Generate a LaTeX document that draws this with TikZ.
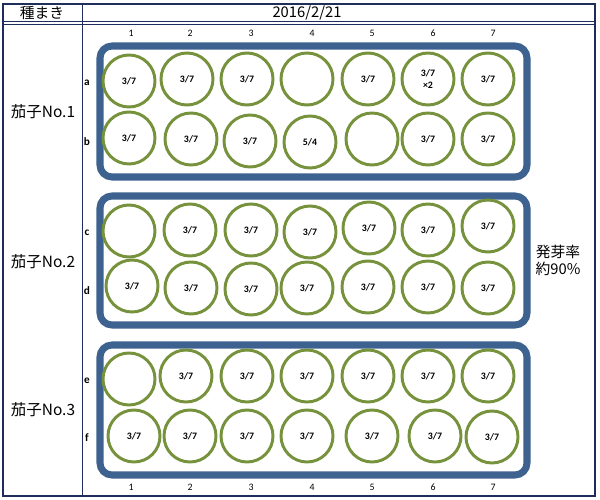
\documentclass[tikz,border=0pt]{standalone}
\usepackage{fontspec}
\setmainfont{Carlito}
\newfontfamily\jpfont{Noto Sans CJK JP}
\definecolor{framenavy}{RGB}{31,45,90}
\definecolor{traynavy}{RGB}{62,98,143}
\definecolor{cupgreen}{RGB}{119,146,60}

\begin{document}
\begin{tikzpicture}[
  x=0.025cm, y=-0.025cm,
  frame/.style={draw=framenavy, line width=1pt},
  rule/.style={draw=framenavy, line width=0.7pt},
  tray/.style={draw=traynavy, line width=5pt, rounded corners=3mm},
  cup/.style={circle, draw=cupgreen, line width=2.1pt, minimum size=1.3cm, inner sep=0pt, align=center, font=\bfseries\fontsize{7}{8}\selectfont},
  colnum/.style={font=\fontsize{7}{8}\selectfont},
  rowlabel/.style={font=\bfseries\fontsize{8}{9}\selectfont},
  variety/.style={font=\jpfont\fontsize{11}{13}\selectfont},
  header/.style={font=\jpfont\fontsize{10.5}{12}\selectfont, align=center}
]
\useasboundingbox (0,0) rectangle (600,500);

% Table frame
\draw[frame] (3,4) rectangle (595,496);
\draw[rule] (3,21) -- (595,21);
\draw[rule] (3,24) -- (595,24);
\draw[rule] (82,4) -- (82,496);

% Header
\node[header] (sowing) at (42,13) {種まき};
\node[header] (date) at (307,13) {2016/2/21};

% Column numbers
\foreach \c/\x in {1/131,2/190,3/251,4/312,5/372,6/433,7/493} {
  \node[colnum] (top\c) at (\x,33) {\c};
  \node[colnum] (bot\c) at (\x,487) {\c};
}

% Trays
\draw[tray] (100,46) rectangle (527,177);
\draw[tray] (100,196) rectangle (527,325);
\draw[tray] (100,345) rectangle (527,475);

% Varieties
\node[variety] (eggplant1) at (43,112) {茄子No.1};
\node[variety] (eggplant2) at (43,262) {茄子No.2};
\node[variety] (eggplant3) at (43,410) {茄子No.3};

% Row letters
\foreach \r/\y in {a/83,b/142,c/233,d/291,e/381,f/438}
  \node[rowlabel] (row\r) at (87,\y) {\r};

% Pots
\foreach \n/\x/\y/\t in {1/129/81/{3/7},2/187/79/{3/7},3/247/79/{3/7},4/307/79/{},5/368/79/{3/7},6/428/79/{3/7\\×2},7/488/79/{3/7}}
  \node[cup] (a\n) at (\x,\y) {\t};
\foreach \n/\x/\y/\t in {1/129/138/{3/7},2/191/139/{3/7},3/250/141/{3/7},4/310/142/{5/4},5/372/139/{},6/428/139/{3/7},7/488/139/{3/7}}
  \node[cup] (b\n) at (\x,\y) {\t};
\foreach \n/\x/\y/\t in {1/129/231/{},2/190/230/{3/7},3/251/230/{3/7},4/310/232/{3/7},5/369/228/{3/7},6/428/230/{3/7},7/488/226/{3/7}}
  \node[cup] (c\n) at (\x,\y) {\t};
\foreach \n/\x/\y/\t in {1/132/286/{3/7},2/191/288/{3/7},3/251/289/{3/7},4/307/288/{3/7},5/368/287/{3/7},6/428/287/{3/7},7/488/288/{3/7}}
  \node[cup] (d\n) at (\x,\y) {\t};
\foreach \n/\x/\y/\t in {1/129/379/{},2/186/376/{3/7},3/247/376/{3/7},4/307/376/{3/7},5/368/376/{3/7},6/428/376/{3/7},7/488/376/{3/7}}
  \node[cup] (e\n) at (\x,\y) {\t};
\foreach \n/\x/\y/\t in {1/134/436/{3/7},2/190/436/{3/7},3/247/436/{3/7},4/307/436/{3/7},5/372/436/{3/7},6/435/436/{3/7},7/492/437/{3/7}}
  \node[cup] (f\n) at (\x,\y) {\t};

% Germination rate
\node[header] (rate) at (558,260) {発芽率\\約90\%};

\end{tikzpicture}
\end{document}
